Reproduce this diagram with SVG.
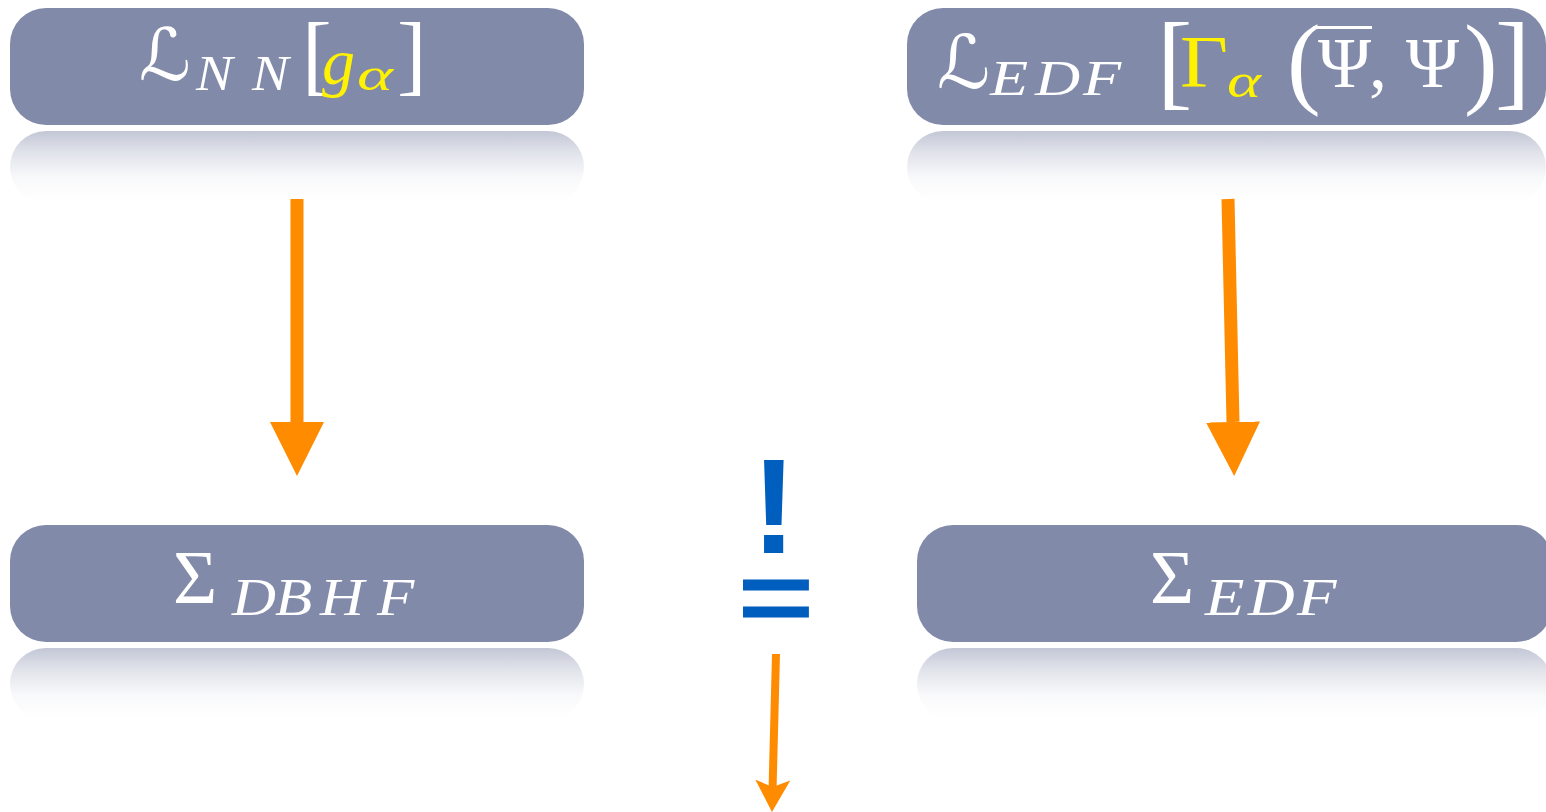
<svg xmlns="http://www.w3.org/2000/svg" width="1546" height="812" viewBox="0 0 1546 812">
<style>
.box{fill:#828AAA}
.refl{fill:url(#reflGrad)}
.m{font-family:"Liberation Serif","DejaVu Serif",serif;fill:#FFFFFF}
.it{font-style:italic}
.cal{font-family:"DejaVu Serif","DejaVu Sans",serif;fill:#FFFFFF}
.y{fill:#FFF200}
.shaft{stroke:#FF8C00;fill:none}
.neq{font-family:"Liberation Sans",Arial,sans-serif;fill:#005EBE;text-anchor:middle}
</style>
<defs>
<linearGradient id="reflGrad" x1="0" y1="0" x2="0" y2="1">
<stop offset="0" stop-color="#828AA9" stop-opacity="0.48"/>
<stop offset="0.3" stop-color="#828AA9" stop-opacity="0.24"/>
<stop offset="0.65" stop-color="#828AA9" stop-opacity="0.05"/>
<stop offset="1" stop-color="#828AA9" stop-opacity="0"/>
</linearGradient>
<marker id="bigHead" markerUnits="userSpaceOnUse" markerWidth="54" markerHeight="54" viewBox="0 -27 54 54" refX="0" refY="0" orient="auto">
<path d="M0,-27 L54,0 L0,27 Z" fill="#FF8C00"/>
</marker>
<marker id="smallHead" markerUnits="userSpaceOnUse" markerWidth="34" markerHeight="36" viewBox="0 -18 34 36" refX="7" refY="0" orient="auto">
<path d="M0,-17.5 L32,0 L0,17.5 L7,0 Z" fill="#FF8C00"/>
</marker>
</defs>

<g id="node-LNN">
<rect class="refl" x="10" y="131" width="574" height="72" rx="36"/>
<rect class="box" x="10" y="8" width="574" height="117" rx="36"/>
<text class="cal" x="139" y="80" font-size="72">ℒ</text>
<text class="m it" transform="translate(196,90) scale(1.1,1)" x="0 50.9" y="0" font-size="50">NN</text>
<text class="m"><tspan x="302" y="84" font-size="89">[</tspan><tspan class="it y" x="322" y="84" font-size="66">g</tspan><tspan class="it y" x="357" y="90" font-size="46" textLength="36" lengthAdjust="spacingAndGlyphs">α</tspan><tspan x="397" y="84" font-size="89">]</tspan></text>
</g>

<g id="node-LEDF">
<rect class="refl" x="907" y="131" width="639" height="72" rx="36"/>
<rect class="box" x="907" y="8" width="639" height="117" rx="36"/>
<text class="cal" x="937" y="88" font-size="74">ℒ</text>
<text class="m it" transform="translate(990,95) scale(1.25,1)" x="0 36 74.4" y="0" font-size="50">EDF</text>
<rect x="1313" y="26" width="59" height="3" fill="#FFFFFF"/>
<text class="m"><tspan x="1157" y="96" font-size="106">[</tspan><tspan class="y" x="1180" y="87" font-size="75" textLength="48" lengthAdjust="spacingAndGlyphs">Γ</tspan><tspan class="it y" x="1227" y="97" font-size="48" textLength="34" lengthAdjust="spacingAndGlyphs">α</tspan><tspan x="1287" y="95" font-size="101">(</tspan><tspan x="1318" y="87" font-size="72">Ψ</tspan><tspan x="1369" y="87" font-size="72">,</tspan><tspan x="1406" y="87" font-size="72">Ψ</tspan><tspan x="1464" y="95" font-size="101">)</tspan><tspan x="1495" y="96" font-size="106">]</tspan></text>
</g>

<g id="node-SigmaDBHF">
<rect class="refl" x="10" y="648" width="574" height="72" rx="36"/>
<rect class="box" x="10" y="525" width="574" height="117" rx="36"/>
<text class="m" x="173" y="603" font-size="76">Σ</text>
<text class="m it" transform="translate(232,615) scale(1.15,1)" x="0 37.4 76.5 126" y="0" font-size="53">DBHF</text>
</g>

<g id="node-SigmaEDF">
<rect class="refl" x="917" y="648" width="635" height="72" rx="36"/>
<rect class="box" x="917" y="525" width="635" height="117" rx="36"/>
<text class="m" x="1150" y="603" font-size="76">Σ</text>
<text class="m it" transform="translate(1205,615) scale(1.22,1)" x="0 35.2 75.4" y="0" font-size="53">EDF</text>
</g>

<g id="node-neq">
<text class="neq"><tspan x="774" y="553" font-size="136" font-weight="bold">!</tspan><tspan x="776" y="634" font-size="110" textLength="75" lengthAdjust="spacingAndGlyphs" stroke="#005EBE" stroke-width="3">=</tspan></text>
</g>

<g id="connectors">
<line class="shaft" x1="297" y1="199" x2="297" y2="422" stroke-width="13" marker-end="url(#bigHead)"/>
<line class="shaft" x1="1228" y1="199" x2="1233" y2="422" stroke-width="13" marker-end="url(#bigHead)"/>
<line class="shaft" x1="776" y1="654" x2="772.6" y2="787" stroke-width="8" marker-end="url(#smallHead)"/>
</g>
</svg>
